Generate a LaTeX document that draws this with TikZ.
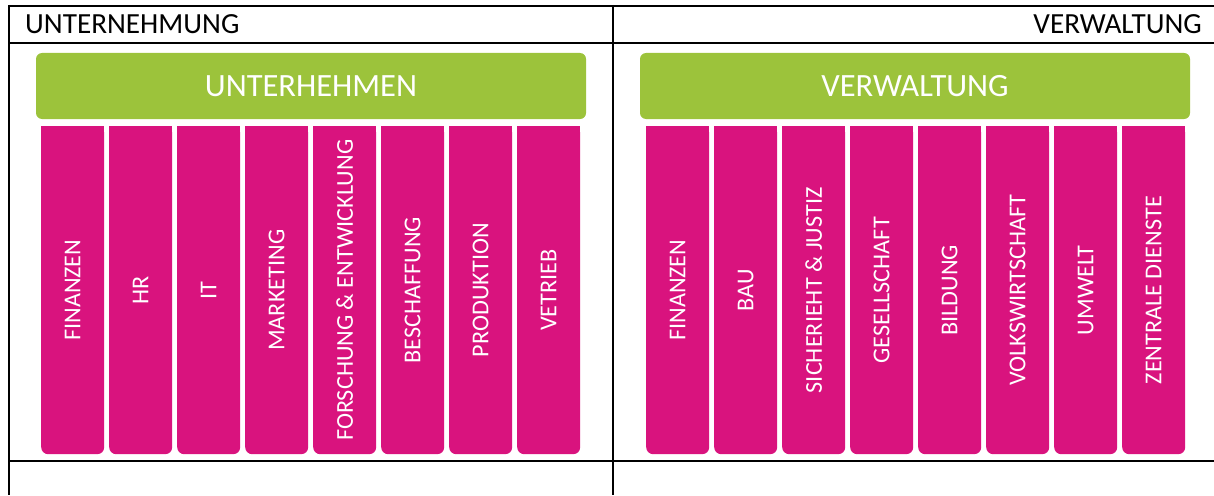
\documentclass[tikz,border=0pt]{standalone}
\usepackage{fontspec}
\setmainfont{Carlito}

\definecolor{kopfgruen}{HTML}{9CC33B}
\definecolor{saeulenpink}{HTML}{D9137E}

\tikzset{
  rahmen/.style={line width=2pt, black},
  kopf/.style={fill=kopfgruen, rounded corners=6pt, minimum width=550pt,
    minimum height=66pt, inner sep=0pt, text=white,
    font=\fontsize{32.5}{38}\selectfont},
  saeule/.style={fill=saeulenpink, rounded corners=7pt, minimum width=63pt,
    minimum height=328pt, inner sep=0pt, anchor=north west, text=white,
    font=\fontsize{24.2}{28}\selectfont},
  titel/.style={inner sep=0pt, font=\fontsize{29.2}{34}\selectfont}
}

\begin{document}
\begin{tikzpicture}[x=1pt,y=-1pt]
\useasboundingbox (0,0) rectangle (1214,495);

% table rules
\draw[rahmen] (9,6) -- (1214,6);
\draw[rahmen] (9,43) -- (1214,43);
\draw[rahmen] (9,460.5) -- (1214,460.5);
\draw[rahmen] (9,5) -- (9,495);
\draw[rahmen] (613,5) -- (613,495);

\node[titel, anchor=base west] (titelU) at (25,34) {UNTERNEHMUNG};
\node[titel, anchor=base east] (titelV) at (1202,34) {VERWALTUNG};

% green headers
\node[kopf] (kopfU) at (311,86) {UNTERHEHMEN};
\node[kopf] (kopfV) at (915,86) {VERWALTUNG};

% columns, square on top and rounded below
\foreach \name [count=\i] in {FINANZEN, HR, IT, MARKETING,
    {FORSCHUNG \& ENTWICKLUNG}, BESCHAFFUNG, PRODUKTION, VETRIEB} {
  \pgfmathsetmacro\xl{41+(\i-1)*68}
  \fill[saeulenpink] (\xl,126) rectangle ++(63,40);
  \node[saeule] (u\i) at (\xl,126) {\rotatebox{90}{\name}};
}
\foreach \name [count=\i] in {FINANZEN, BAU, {SICHERIEHT \& JUSTIZ},
    GESELLSCHAFT, BILDUNG, VOLKSWIRTSCHAFT, UMWELT, {ZENTRALE DIENSTE}} {
  \pgfmathsetmacro\xl{646+(\i-1)*68}
  \fill[saeulenpink] (\xl,126) rectangle ++(63,40);
  \node[saeule] (v\i) at (\xl,126) {\rotatebox{90}{\name}};
}

\end{tikzpicture}
\end{document}
